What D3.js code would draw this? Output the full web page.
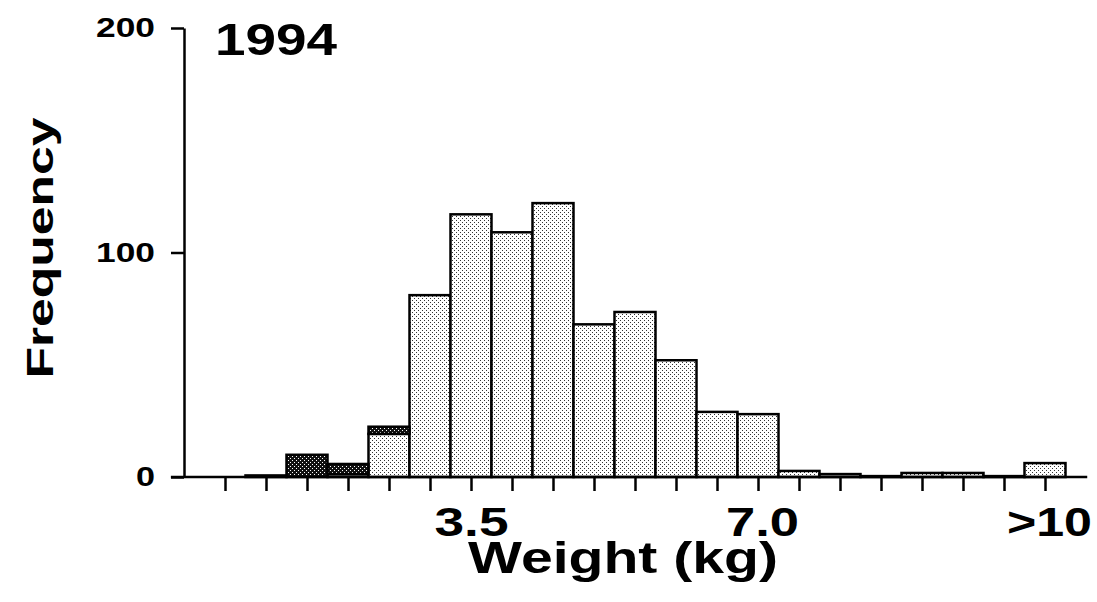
<!DOCTYPE html>
<html lang="en">
<head>
<meta charset="UTF-8">
<title>1994 Weight Frequency</title>
<script src="https://d3js.org/d3.v7.min.js"></script>
<style>
  body { margin: 0; background: #fff; }
  text { font-family: "Liberation Sans", Arial, sans-serif; font-weight: bold; fill: #000; }
  .bar { stroke: #000; stroke-width: 2.5px; }
  .axis path, .axis line { stroke: #000; stroke-width: 2.5px; }
</style>
</head>
<body>
<svg id="chart" width="1097" height="602"></svg>
<script>
    // bins of 0.5 kg, centred on 0.5 ... 10.0, last one is >10
    const bins = [0.5, 1.0, 1.5, 2.0, 2.5, 3.0, 3.5, 4.0, 4.5, 5.0, 5.5,
                  6.0, 6.5, 7.0, 7.5, 8.0, 8.5, 9.0, 9.5, 10.0, ">10"];
    // light stippled part (bottom of each bar)
    const lightCounts = [0, 0.7, 0, 1.3, 19.2, 81, 117, 109, 122, 68, 73.5,
                         52, 29, 28, 2.7, 1.3, 0.4, 1.8, 1.8, 0.4, 6.2];
    // dark stippled part stacked on top
    const darkCounts = [0, 0, 9.9, 4.5, 3.2, 0, 0, 0, 0, 0, 0,
                        0, 0, 0, 0, 0, 0, 0, 0, 0, 0];
    const xLabels = {6: "3.5", 13: "7.0", 20: ">10"};
    const yTicks = [0, 100, 200];

    const svg = d3.select("#chart");

    const x = d3.scaleLinear().domain([0, 20]).range([225, 1045]);
    const y = d3.scaleLinear().domain([0, 200]).range([477, 28]);
    const barW = x(1) - x(0);

    // stipple patterns
    const defs = svg.append("defs");
    const light = defs.append("pattern").attr("id", "light")
        .attr("width", 4).attr("height", 4).attr("patternUnits", "userSpaceOnUse");
    light.append("rect").attr("width", 4).attr("height", 4).attr("fill", "#fff");
    light.append("rect").attr("width", 1).attr("height", 1).attr("fill", "#333");
    light.append("rect").attr("x", 2).attr("y", 2).attr("width", 1).attr("height", 1).attr("fill", "#333");
    const dark = defs.append("pattern").attr("id", "dark")
        .attr("width", 4).attr("height", 4).attr("patternUnits", "userSpaceOnUse");
    dark.append("rect").attr("width", 4).attr("height", 4).attr("fill", "#111");
    dark.append("rect").attr("width", 1).attr("height", 1).attr("fill", "#fff");
    dark.append("rect").attr("x", 2).attr("y", 2).attr("width", 1).attr("height", 1).attr("fill", "#fff");

    const data = bins.map((b, i) => ({i, bin: b, light: lightCounts[i], dark: darkCounts[i]}));

    // light bars
    svg.append("g").selectAll("rect")
        .data(data.filter(d => d.light > 0))
        .join("rect")
        .attr("class", "bar")
        .attr("fill", "url(#light)")
        .attr("x", d => x(d.i) - barW / 2)
        .attr("width", barW)
        .attr("y", d => y(d.light))
        .attr("height", d => y(0) - y(d.light));

    // dark bars on top
    svg.append("g").selectAll("rect")
        .data(data.filter(d => d.dark > 0))
        .join("rect")
        .attr("class", "bar")
        .attr("fill", "url(#dark)")
        .attr("x", d => x(d.i) - barW / 2)
        .attr("width", barW)
        .attr("y", d => y(d.light + d.dark))
        .attr("height", d => y(d.light) - y(d.light + d.dark));

    // x axis
    const xAxis = svg.append("g")
        .attr("class", "axis")
        .attr("transform", `translate(0,${y(0)})`)
        .call(d3.axisBottom(x)
            .tickValues(d3.range(0, 21))
            .tickSize(14)
            .tickFormat(i => xLabels[i] || ""));
    xAxis.select(".domain").remove();
    xAxis.append("line")
        .attr("x1", x(-1.32)).attr("x2", x(21.03))
        .attr("stroke", "#000").attr("stroke-width", 2.5);
    xAxis.selectAll(".tick text")
        .attr("font-size", 40)
        .attr("font-family", null)
        .attr("dy", null)
        .attr("y", 59)
        .attr("lengthAdjust", "spacingAndGlyphs")
        .each(function(i) {
            const t = d3.select(this);
            if (i === 20) t.attr("textLength", 85).attr("x", 4);
            else if (i === 13) t.attr("textLength", 73).attr("x", 4);
            else if (i === 6) t.attr("textLength", 74);
        });

    // y axis
    const yAxis = svg.append("g")
        .attr("class", "axis")
        .attr("transform", `translate(${x(-1)},0)`)
        .call(d3.axisLeft(y)
            .tickValues(yTicks)
            .tickSize(13)
            .tickSizeOuter(0)
            .tickPadding(16));
    yAxis.selectAll(".tick text")
        .attr("font-size", 28)
        .attr("font-family", null)
        .attr("lengthAdjust", "spacingAndGlyphs")
        .attr("textLength", d => d === 0 ? 19 : 59);

    // titles
    svg.append("text")
        .attr("x", 215).attr("y", 55)
        .attr("font-size", 44)
        .attr("textLength", 122).attr("lengthAdjust", "spacingAndGlyphs")
        .text("1994");

    svg.append("text")
        .attr("x", 623).attr("y", 573)
        .attr("text-anchor", "middle")
        .attr("font-size", 44)
        .attr("textLength", 310).attr("lengthAdjust", "spacingAndGlyphs")
        .text("Weight (kg)");

    svg.append("text")
        .attr("transform", "translate(53,248) rotate(-90)")
        .attr("text-anchor", "middle")
        .attr("font-size", 37)
        .attr("textLength", 261).attr("lengthAdjust", "spacingAndGlyphs")
        .text("Frequency");
</script>
</body>
</html>
